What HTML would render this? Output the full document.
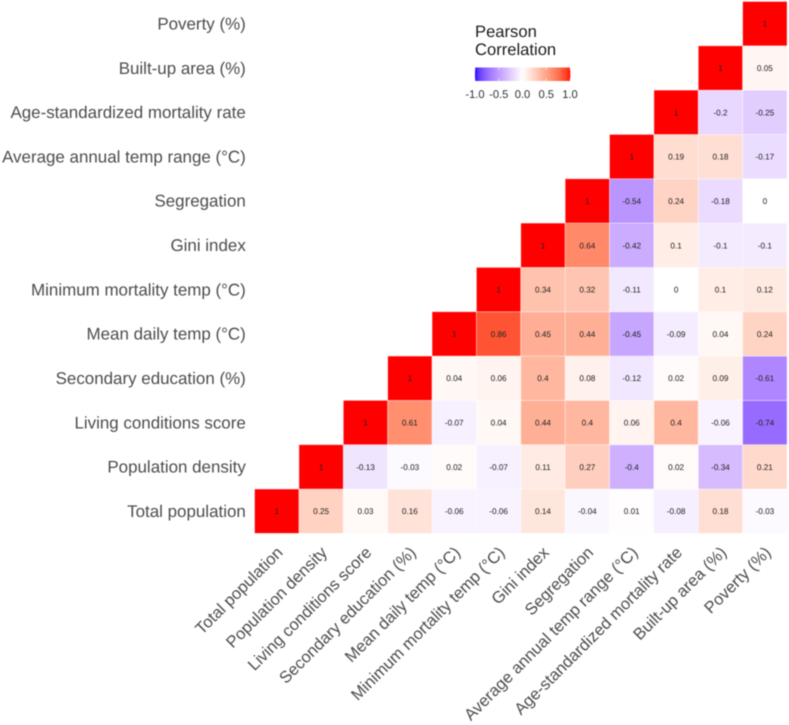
<!DOCTYPE html>
<html lang="en">
<head>
<meta charset="utf-8">
<title>Pearson Correlation Heatmap</title>
<style>
html,body{margin:0;padding:0;background:#fff;}
body{width:789px;height:725px;overflow:hidden;}
svg{display:block;font-family:"Liberation Sans",Arial,sans-serif;filter:blur(0.4px);text-rendering:geometricPrecision;}
</style>
</head>
<body>
<svg id="chart" xmlns="http://www.w3.org/2000/svg" width="789" height="725" viewBox="0 0 789 725">
  <rect x="0" y="0" width="789" height="725" fill="#fff"/>
  <g id="cells"></g>
  <g id="cell-labels"></g>
  <g id="y-axis"></g>
  <g id="x-axis"></g>
  <g id="legend">
    <text x="475" y="37" font-size="16.6" fill="#1a1a1a">Pearson</text>
    <text x="475" y="55.2" font-size="16.6" fill="#1a1a1a">Correlation</text>
  </g>
</svg>
<script>
const categories = ["Total population","Population density","Living conditions score","Secondary education (%)","Mean daily temp (°C)","Minimum mortality temp (°C)","Gini index","Segregation","Average annual temp range (°C)","Age-standardized mortality rate","Built-up area (%)","Poverty (%)"];
const row0 = [1,0.25,0.03,0.16,-0.06,-0.06,0.14,-0.04,0.01,-0.08,0.18,-0.03];
const row1 = [1,-0.13,-0.03,0.02,-0.07,0.11,0.27,-0.4,0.02,-0.34,0.21];
const row2 = [1,0.61,-0.07,0.04,0.44,0.4,0.06,0.4,-0.06,-0.74];
const row3 = [1,0.04,0.06,0.4,0.08,-0.12,0.02,0.09,-0.61];
const row4 = [1,0.86,0.45,0.44,-0.45,-0.09,0.04,0.24];
const row5 = [1,0.34,0.32,-0.11,0,0.1,0.12];
const row6 = [1,0.64,-0.42,0.1,-0.1,-0.1];
const row7 = [1,-0.54,0.24,-0.18,0];
const row8 = [1,0.19,0.18,-0.17];
const row9 = [1,-0.2,-0.25];
const row10 = [1,0.05];
const row11 = [1];
const rows = [row0,row1,row2,row3,row4,row5,row6,row7,row8,row9,row10,row11];
const legendTicks = [-1,-0.5,0,0.5,1];
const legendTickLabels = ["-1.0","-0.5","0.0","0.5","1.0"];

const NS = "http://www.w3.org/2000/svg";
const plotLeft = 254.6, plotTop = 1.5, cellW = 44.37, cellH = 44.32;
function xPos(i){ return plotLeft + i * cellW; }
function yPos(i){ return plotTop + (categories.length - 1 - i) * cellH; }

function labToRgb(L,a,b){
  const fy=(L+16)/116, fx=fy+a/500, fz=fy-b/200;
  const f=t=>t*t*t>0.008856?t*t*t:(t-16/116)/7.787;
  const X=0.95047*f(fx), Y=f(fy), Z=1.08883*f(fz);
  const lin=[3.2406*X-1.5372*Y-0.4986*Z,-0.9689*X+1.8758*Y+0.0415*Z,0.0557*X-0.2040*Y+1.0570*Z];
  const c=lin.map(v=>{
    const s=v<=0.0031308?12.92*v:1.055*Math.pow(v,1/2.4)-0.055;
    return Math.round(Math.min(1,Math.max(0,s))*255);
  });
  return "rgb("+c[0]+","+c[1]+","+c[2]+")";
}
function fillFor(v){
  const end = v>=0 ? [53.24,80.09,67.2] : [32.3,79.19,-107.86];
  const a = Math.min(1,Math.abs(v));
  const t = v>=0 ? 0.94*a+0.06*Math.pow(a,8) : 0.85*a+0.15*Math.pow(a,8);
  return labToRgb(100+(end[0]-100)*t, end[1]*t, end[2]*t);
}

const cellsG = document.getElementById("cells");
const labelsG = document.getElementById("cell-labels");
rows.forEach(function(row, r){
  row.forEach(function(v, k){
    const c = r + k;
    const rect = document.createElementNS(NS,"rect");
    
    
    rect.setAttribute("x", xPos(c));
    rect.setAttribute("y", yPos(r));
    rect.setAttribute("width", cellW);
    rect.setAttribute("height", cellH);
    rect.setAttribute("fill", fillFor(v));
    rect.setAttribute("stroke", "#fff");
    rect.setAttribute("stroke-opacity", "0.45");
    rect.setAttribute("stroke-width", "0.8");
    cellsG.appendChild(rect);

    const t = document.createElementNS(NS,"text");
    
    
    t.setAttribute("x", xPos(c) + cellW/2);
    t.setAttribute("y", yPos(r) + cellH/2 + 3);
    t.setAttribute("text-anchor", "middle");
    t.setAttribute("font-size", "8.2");
    t.setAttribute("fill", "#222");
    t.textContent = String(v);
    labelsG.appendChild(t);
  });
});

const yG = document.getElementById("y-axis");
const xG = document.getElementById("x-axis");
categories.forEach(function(name, i){
  const yl = document.createElementNS(NS,"text");
  
  
  yl.setAttribute("x", 245.8);
  yl.setAttribute("y", yPos(i) + cellH/2 + 5.8);
  yl.setAttribute("text-anchor", "end");
  yl.setAttribute("font-size", "16.95");
  yl.setAttribute("fill", "#4d4d4d");
  yl.textContent = name;
  yG.appendChild(yl);

  const xl = document.createElementNS(NS,"text");
  const ax = xPos(i) + cellW/2 + 7;
  const ay = 553.5;
  
  
  xl.setAttribute("x", ax);
  xl.setAttribute("y", ay);
  xl.setAttribute("text-anchor", "end");
  xl.setAttribute("font-size", "16.5");
  xl.setAttribute("fill", "#4d4d4d");
  xl.setAttribute("transform", "rotate(-45 " + ax + " " + ay + ")");
  xl.textContent = name;
  xG.appendChild(xl);
});

const legendG = document.getElementById("legend");
const barLeft = 475, barRight = 570, barTop = 67.5, barH = 13.5;
function legendX(v){ return barLeft + (v + 1) / 2 * (barRight - barLeft); }
const barSteps = 95;
for (let s = 0; s < barSteps; s++) {
  const v0 = -1 + 2 * s / barSteps;
  const v1 = -1 + 2 * (s + 1) / barSteps;
  const seg = document.createElementNS(NS,"rect");
  
  
  seg.setAttribute("x", legendX(v0));
  seg.setAttribute("y", barTop);
  seg.setAttribute("width", legendX(v1) - legendX(v0) + 0.3);
  seg.setAttribute("height", barH);
  seg.setAttribute("fill", fillFor((v0 + v1) / 2));
  legendG.appendChild(seg);
}
legendTicks.forEach(function(v, i){
  [barTop, barTop + barH * 0.8].forEach(function(y0){
    const tick = document.createElementNS(NS,"line");
    
    
    tick.setAttribute("x1", legendX(v));
    tick.setAttribute("x2", legendX(v));
    tick.setAttribute("y1", y0);
    tick.setAttribute("y2", y0 + barH * 0.2);
    tick.setAttribute("stroke", "#fff");
    tick.setAttribute("stroke-width", "0.5");
    legendG.appendChild(tick);
  });
  const lab = document.createElementNS(NS,"text");
  
  
  lab.setAttribute("x", legendX(v));
  lab.setAttribute("y", 98);
  lab.setAttribute("text-anchor", "middle");
  lab.setAttribute("font-size", "11.2");
  lab.setAttribute("fill", "#333");
  lab.textContent = legendTickLabels[i];
  legendG.appendChild(lab);
});
</script>
</body>
</html>
